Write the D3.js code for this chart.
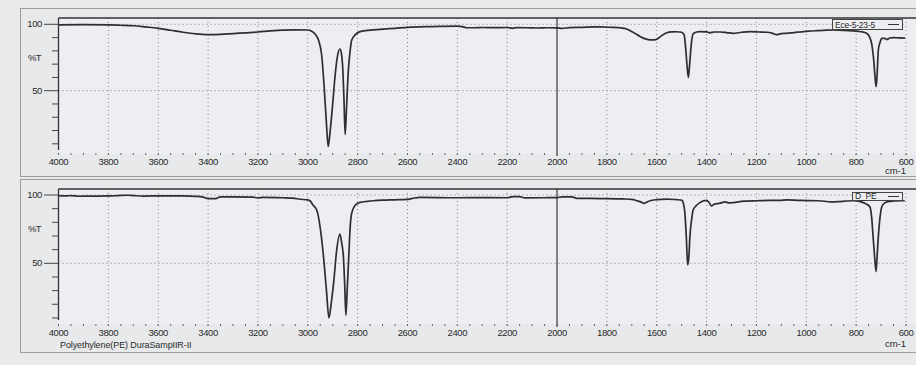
<!DOCTYPE html>
<html>
<head>
<meta charset="utf-8">
<script src="https://cdn.jsdelivr.net/npm/d3@7"></script>
<style>
  body { margin: 0; background: #e8eaec; }
  svg { display: block; }
  text { font-family: "Liberation Sans", Arial, sans-serif; fill: #2a2a2a; }
</style>
</head>
<body>
<svg width="916" height="365"></svg>
<script>
// wavenumbers (cm-1) and %T
const sampleWn = [4000, 3900, 3800, 3750, 3700, 3650, 3600, 3550, 3500, 3450, 3400, 3350, 3300, 3250, 3200, 3150, 3100, 3050, 3000, 2985, 2970, 2955, 2945, 2935, 2925, 2918, 2910, 2900, 2890, 2880, 2871, 2865, 2860, 2855, 2850, 2845, 2837, 2830, 2824, 2810, 2790, 2750, 2710, 2650, 2600, 2500, 2400, 2380, 2362, 2330, 2300, 2250, 2200, 2180, 2160, 2120, 2080, 2040, 2000, 1980, 1950, 1900, 1850, 1828, 1780, 1747, 1720, 1707, 1690, 1667, 1645, 1627, 1610, 1600, 1580, 1560, 1540, 1520, 1500, 1490, 1484, 1478, 1473, 1468, 1462, 1454, 1440, 1427, 1400, 1387, 1370, 1346, 1320, 1293, 1260, 1226, 1190, 1159, 1135, 1119, 1100, 1079, 1050, 1025, 990, 958, 920, 892, 850, 811, 780, 758, 745, 738, 730, 724, 720, 716, 711, 704, 697, 685, 677, 665, 651, 630, 604]
const sampleT = [99.6, 99.7, 99.6, 99.3, 98.9, 98.0, 97.0, 95.5, 94.0, 92.8, 92.2, 92.4, 93.0, 93.6, 94.2, 95.0, 95.6, 95.8, 95.7, 94.8, 92.5, 87, 78, 55, 25, 8, 20, 40, 62, 77, 81.4, 78, 68, 45, 17, 35, 66, 80, 88, 92, 94.5, 95.6, 96.2, 97.0, 97.7, 98.3, 98.7, 98.3, 97.4, 97.4, 97.6, 97.5, 97.6, 97.0, 97.5, 97.4, 97.2, 97.4, 97.3, 96.9, 97.5, 97.7, 98.0, 98.0, 97.7, 97.4, 96.5, 95.2, 93.5, 90.9, 89.0, 88.3, 88.3, 88.7, 91.5, 93.6, 94.3, 94.4, 94.0, 92, 82, 68, 60, 70, 84, 92.8, 94.2, 94.5, 94.3, 93.6, 94.2, 94.2, 93.8, 93.2, 94.0, 94.5, 94.2, 94.0, 93.2, 92.2, 93.0, 93.2, 93.8, 94.2, 94.8, 95.2, 95.6, 95.7, 95.5, 95.0, 94.4, 93.2, 90, 85.7, 74, 60, 53, 62, 80.6, 86.5, 89.4, 89.4, 88.5, 89.7, 90.0, 89.8, 89.6]

const refWn = [4000, 3970, 3950, 3920, 3880, 3800, 3760, 3720, 3700, 3660, 3620, 3600, 3500, 3450, 3420, 3400, 3370, 3350, 3300, 3220, 3200, 3180, 3100, 3060, 3030, 3000, 2990, 2979, 2964, 2950, 2938, 2925, 2915, 2905, 2895, 2885, 2871, 2864, 2857, 2852, 2847, 2842, 2835, 2830, 2824, 2810, 2790, 2760, 2737, 2700, 2650, 2603, 2580, 2550, 2400, 2300, 2200, 2175, 2150, 2130, 2050, 2000, 1980, 1940, 1920, 1828, 1734, 1700, 1680, 1660, 1651, 1640, 1627, 1600, 1560, 1520, 1500, 1493, 1487, 1481, 1476, 1471, 1467, 1460, 1454, 1440, 1427, 1400, 1390, 1380, 1370, 1346, 1326, 1310, 1293, 1250, 1200, 1150, 1106, 1080, 1025, 950, 900, 870, 840, 811, 780, 760, 745, 738, 732, 726, 720, 716, 711, 704, 697, 688, 677, 650, 617, 605]
const refT = [99.5, 99.3, 99.6, 99.1, 99.2, 99.3, 99.6, 99.8, 99.6, 99.2, 99.3, 99.4, 99.3, 99.0, 98.5, 97.4, 97.4, 98.6, 98.6, 98.5, 97.9, 98.3, 98.0, 97.7, 96.9, 96.4, 95.6, 92.7, 89, 76, 57, 30, 10, 22, 38, 58, 71.4, 65, 55, 35, 12, 30, 57, 76, 86.6, 92.5, 94.6, 95.4, 95.8, 96.2, 96.5, 96.8, 97.5, 98.3, 98.0, 98.1, 98.0, 98.8, 98.8, 97.9, 98.0, 98.1, 98.6, 98.6, 97.6, 97.4, 97.1, 96.8, 95.8, 94.6, 93.9, 94.8, 95.8, 96.6, 97.0, 96.6, 96.3, 94, 86.6, 68, 48.8, 55, 69.5, 82, 89, 92.5, 94.4, 96.0, 94.5, 92, 93.2, 94.0, 95.0, 94.2, 94.4, 95.5, 95.8, 96.0, 96.0, 96.5, 96.0, 95.8, 95.0, 95.2, 95.6, 95.8, 95.0, 93.5, 91.4, 84, 69.5, 55, 43.9, 55, 69.5, 84, 91.4, 93.8, 95.0, 95.6, 95.8, 95.8]

const xTicks = [4000, 3800, 3600, 3400, 3200, 3000, 2800, 2600, 2400, 2200, 2000, 1800, 1600, 1400, 1200, 1000, 800, 600]
const yMajor = [100, 50]
const yMinor = [90, 80, 70, 60, 40, 30, 20, 10]

const panels = [
  { name: "Ece-5-23-5", wn: sampleWn, t: sampleT, frameTop: 8, frameBottom: 176, plotTop: 18,
    y100: 24.3, y50: 90.7, axisBottom: 150, tickRow: 154, labelY: 165, unitY: 174,
    legend: [832, 19, 70, 10], note: null },
  { name: "D_PE", wn: refWn, t: refT, frameTop: 179, frameBottom: 352, plotTop: 189,
    y100: 195, y50: 263.3, axisBottom: 320, tickRow: 325, labelY: 335.5, unitY: 347,
    legend: [852, 192, 50, 8], note: "Polyethylene(PE) DuraSampIIR-II" }
]

const svg = d3.select("svg")
const x = d3.scaleLinear().domain([4000, 600]).range([58.5, 906])

panels.forEach((p) => {
  const y = d3.scaleLinear().domain([100, 50]).range([p.y100, p.y50])
  const g = svg.append("g")

  // outer frame
  g.append("rect")
    .attr("x", 20.5).attr("y", p.frameTop + 0.5)
    .attr("width", 920).attr("height", p.frameBottom - p.frameTop)
    .attr("fill", "#e7e9eb").attr("stroke", "#9a9c9e").attr("stroke-width", 1)

  // plot area
  g.append("rect")
    .attr("x", x(4000)).attr("y", p.plotTop)
    .attr("width", x(600) - x(4000) + 10).attr("height", p.axisBottom - p.plotTop + 4)
    .attr("fill", "#eceef2")

  // vertical grid
  g.selectAll(".vgrid")
    .data(xTicks.filter((d) => d !== 4000 && d !== 2000))
    .enter().append("line")
    .attr("x1", (d) => x(d)).attr("x2", (d) => x(d))
    .attr("y1", p.plotTop).attr("y2", p.tickRow + 2)
    .attr("stroke", "#707276").attr("stroke-width", 0.9)
    .attr("stroke-dasharray", "1,3")

  // horizontal grid at 100 and 50
  g.selectAll(".hgrid")
    .data(yMajor)
    .enter().append("line")
    .attr("x1", x(4000)).attr("x2", x(600))
    .attr("y1", (d) => y(d)).attr("y2", (d) => y(d))
    .attr("stroke", "#707276").attr("stroke-width", 0.9)
    .attr("stroke-dasharray", "1,3")

  // solid line at 2000
  g.append("line")
    .attr("x1", x(2000)).attr("x2", x(2000))
    .attr("y1", p.plotTop).attr("y2", p.tickRow + 2)
    .attr("stroke", "#3a3a3a").attr("stroke-width", 1.2)

  // x minor ticks every 50 cm-1
  g.selectAll(".xminor")
    .data(d3.range(4000, 599, -50))
    .enter().append("line")
    .attr("x1", (d) => x(d)).attr("x2", (d) => x(d))
    .attr("y1", p.tickRow - 1).attr("y2", p.tickRow + 1)
    .attr("stroke", "#666").attr("stroke-width", 1)

  g.selectAll(".xlab")
    .data(xTicks)
    .enter().append("text")
    .attr("x", (d) => x(d)).attr("y", p.labelY)
    .attr("text-anchor", "middle").attr("font-size", 9.5)
    .attr("letter-spacing", -0.4)
    .text((d) => d)

  g.append("text")
    .attr("x", 906).attr("y", p.unitY)
    .attr("text-anchor", "end").attr("font-size", 9.5)
    .text("cm-1")

  if (p.note) {
    g.append("text")
      .attr("x", 60).attr("y", p.unitY + 1)
      .attr("font-size", 9).attr("letter-spacing", -0.1)
      .text(p.note)
  }

  // y axis
  g.append("line")
    .attr("x1", x(4000)).attr("x2", x(4000))
    .attr("y1", p.plotTop).attr("y2", p.axisBottom)
    .attr("stroke", "#333").attr("stroke-width", 1.3)

  g.append("line")
    .attr("x1", x(4000)).attr("x2", 916)
    .attr("y1", p.plotTop).attr("y2", p.plotTop)
    .attr("stroke", "#333").attr("stroke-width", 1.6)

  g.selectAll(".ymajor")
    .data(yMajor)
    .enter().append("line")
    .attr("x1", 44).attr("x2", x(4000))
    .attr("y1", (d) => y(d)).attr("y2", (d) => y(d))
    .attr("stroke", "#444").attr("stroke-width", 1)

  g.selectAll(".yminor")
    .data(yMinor)
    .enter().append("line")
    .attr("x1", 52).attr("x2", x(4000))
    .attr("y1", (d) => y(d)).attr("y2", (d) => y(d))
    .attr("stroke", "#444").attr("stroke-width", 1)

  g.selectAll(".ylab")
    .data(yMajor)
    .enter().append("text")
    .attr("x", 42).attr("y", (d) => y(d) + 3)
    .attr("text-anchor", "end").attr("font-size", 9.5)
    .attr("letter-spacing", -0.4)
    .text((d) => d)

  g.append("text")
    .attr("x", 28).attr("y", y(75) + 3)
    .attr("font-size", 9.5).attr("letter-spacing", -0.6)
    .text("%T")

  // spectrum
  const pts = p.wn.map((w, i) => [w, p.t[i]])
  g.append("path")
    .datum(pts)
    .attr("fill", "none").attr("stroke", "#2e2e2e").attr("stroke-width", 1.7)
    .attr("stroke-linejoin", "round")
    .attr("d", d3.line().x((d) => x(d[0])).y((d) => y(d[1])).curve(d3.curveMonotoneX))

  // legend
  const [lx, ly, lw, lh] = p.legend
  g.append("rect")
    .attr("x", lx + 0.5).attr("y", ly + 0.5).attr("width", lw).attr("height", lh)
    .attr("fill", "#eceef2").attr("stroke", "#444").attr("stroke-width", 1)
  g.append("text")
    .attr("x", lx + 3).attr("y", ly + lh - 1.5)
    .attr("font-size", 8.5).attr("letter-spacing", -0.2)
    .text(p.name)
  g.append("line")
    .attr("x1", lx + lw - 14).attr("x2", lx + lw - 3)
    .attr("y1", ly + lh / 2 + 0.5).attr("y2", ly + lh / 2 + 0.5)
    .attr("stroke", "#333").attr("stroke-width", 1)
})
</script>
</body>
</html>
